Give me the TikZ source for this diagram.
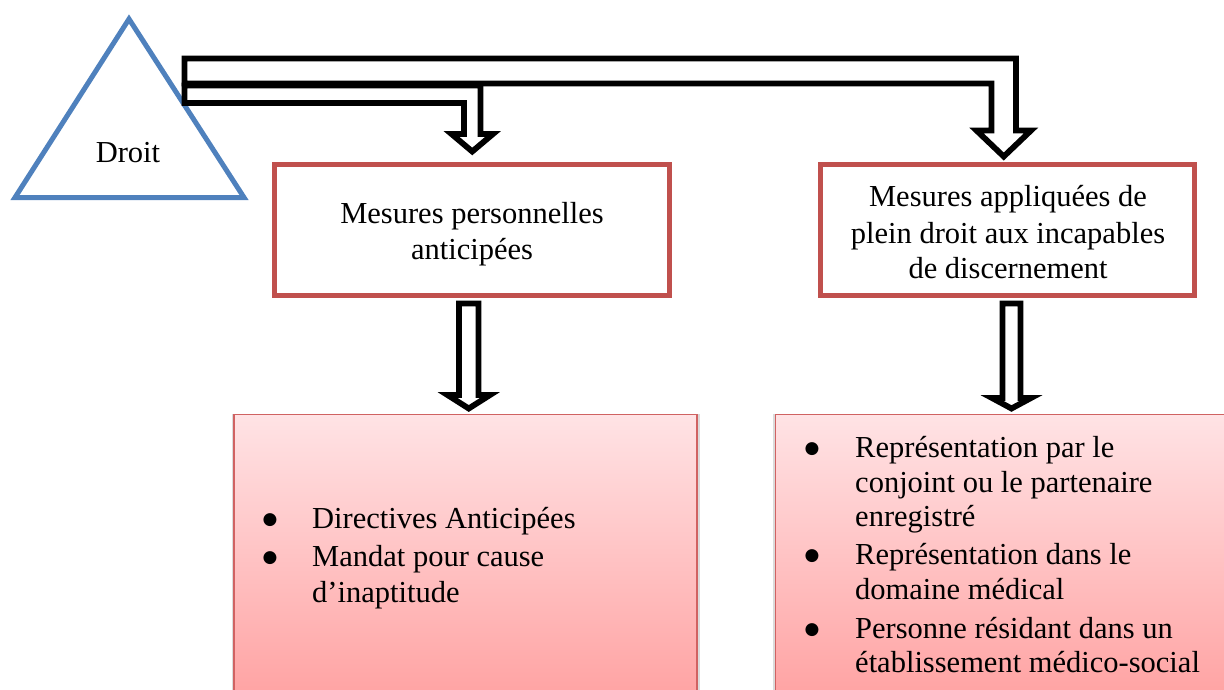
\documentclass[tikz,border=0pt]{standalone}
\usepackage{fontspec}
\setmainfont{Liberation Serif}
\newfontfamily\dejavu{DejaVu Sans}
\definecolor{triblue}{RGB}{79,129,189}
\definecolor{boxred}{RGB}{192,80,77}
\definecolor{listred}{RGB}{208,98,98}
\definecolor{pinktop}{RGB}{255,227,229}
\definecolor{pinkbot}{RGB}{255,162,162}
\begin{document}
\begin{tikzpicture}[x=1pt,y=-1pt,
  tri/.style={draw=triblue, line width=5pt, line join=miter},
  topbox/.style={draw=boxred, line width=5pt, fill=white, inner sep=0pt},
  listbox/.style={draw=listred, line width=1.5pt, top color=pinktop, bottom color=pinkbot, inner sep=0pt},
  boxshadow/.style={fill=black!14, draw=none, inner sep=0pt},
  blockarrow/.style={draw=black, line width=5.8pt, fill=white, line join=miter},
  txt/.style={font=\fontsize{30.5}{35}\selectfont, inner sep=0pt, anchor=base},
  itemtxt/.style={txt, anchor=base west},
  bul/.style={font=\dejavu\fontsize{17}{17}\selectfont, inner sep=0pt, anchor=base, yshift=4pt}
]
\useasboundingbox (0,0) rectangle (1224,690);
\clip (0,0) rectangle (1224,690);

% triangle
\draw[tri] (129,19) -- (244,197.5) -- (15,197.5) -- cycle;
\node[txt] (droit) at (128,163) {Droit};

% top boxes
\node[topbox, minimum width=395pt, minimum height=131pt] (mp) at (472,230) {};
\node[topbox, minimum width=374pt, minimum height=131pt] (ma) at (1007.5,230) {};
\node[txt] (mp1) at (472,223) {Mesures personnelles};
\node[txt] (mp2) at (472,259) {anticipées};
\node[txt] (ma1) at (1008,207) {Mesures appliquées de};
\node[txt] (ma2) at (1008,243) {plein droit aux incapables};
\node[txt] (ma3) at (1008,278) {de discernement};

% bent block arrows from Droit
\draw[blockarrow] (184.5,85.5) -- (480.5,85.5) -- (480.5,134) -- (493,134) -- (472.25,151.5)
  -- (451.5,134) -- (464,134) -- (464,103) -- (184.5,103) -- cycle;
\draw[blockarrow] (184.5,58.5) -- (1016,58.5) -- (1016,130.5) -- (1031,130.5) -- (1003.75,156.5)
  -- (976.5,130.5) -- (991.5,130.5) -- (991.5,83.5) -- (184.5,83.5) -- cycle;

% bottom boxes
\node[boxshadow, minimum width=468pt, minimum height=290pt] (lbs) at (465.5,559) {};
\node[boxshadow, minimum width=470pt, minimum height=290pt] (rbs) at (1008,559) {};
\node[listbox, minimum width=463pt, minimum height=286pt] (lb) at (465.5,557.5) {};
\node[listbox, minimum width=465pt, minimum height=286pt] (rb) at (1008,557.5) {};

% down block arrows
\draw[blockarrow] (459,303.5) -- (478.5,303.5) -- (478.5,395) -- (490,395) -- (468.75,408.5)
  -- (447.5,395) -- (459,395) -- cycle;
\draw[blockarrow] (1002.5,303.5) -- (1020.5,303.5) -- (1020.5,398) -- (1031,398) -- (1011.5,408.5)
  -- (992,398) -- (1002.5,398) -- cycle;

% left list
\node[bul] (lb1) at (270,528) {●};
\node[itemtxt] (l1) at (312,528) {Directives Anticipées};
\node[bul] (lb2) at (270,566) {●};
\node[itemtxt] (l2) at (312,566) {Mandat pour cause};
\node[itemtxt] (l3) at (312,602) {d’inaptitude};

% right list
\node[bul] (rb1) at (812,457) {●};
\node[itemtxt] (r1) at (855,457) {Représentation par le};
\node[itemtxt] (r2) at (855,492) {conjoint ou le partenaire};
\node[itemtxt] (r3) at (855,526) {enregistré};
\node[bul] (rb2) at (812,564) {●};
\node[itemtxt] (r4) at (855,564) {Représentation dans le};
\node[itemtxt] (r5) at (855,599) {domaine médical};
\node[bul] (rb3) at (812,638) {●};
\node[itemtxt] (r6) at (855,638) {Personne résidant dans un};
\node[itemtxt] (r7) at (855,672) {établissement médico-social};
\end{tikzpicture}
\end{document}
